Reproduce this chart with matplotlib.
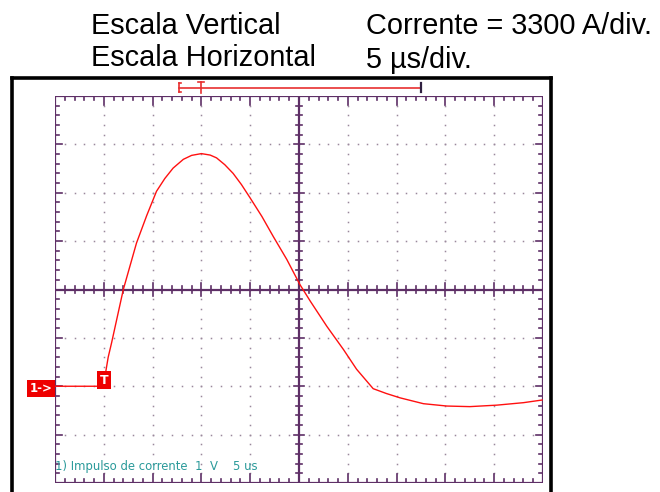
import numpy as np
import matplotlib.pyplot as plt
from matplotlib.lines import Line2D

# oscilloscope settings
A_DIV = 3300.0      # A per division
US_DIV = 5.0        # microseconds per division
N_X, N_Y = 10, 8    # screen divisions

# current pulse, time in us from trigger, current in A above the baseline
tempo_us = [-5.0, 0.0, 0.2, 0.45, 0.8, 2.0, 3.35, 4.4, 5.4, 6.25, 7.1, 8.15,
            9.0, 10.0, 10.9, 11.55, 12.4, 13.25, 14.1, 15.0, 16.2, 17.35,
            18.75, 20.1, 21.15, 22.85, 23.7, 24.55, 25.9, 27.6, 28.95, 30.35,
            32.75, 35.15, 37.5, 40.25, 43.0, 44.9]
corrente_a = [0, 0, 990, 1980, 2970, 6600, 9770, 11650, 13300, 14170, 14880,
              15480, 15750, 15870, 15770, 15580, 15110, 14520, 13760, 12840,
              11580, 10230, 8650, 6930, 5810, 4090, 3300, 2510, 1160, -165,
              -495, -790, -1190, -1350, -1390, -1290, -1120, -940]

t0 = -1 * US_DIV            # left edge of the screen
i0 = -2 * A_DIV             # bottom edge of the screen

W, H = 660, 492
fig = plt.figure(figsize=(W / 100, H / 100), dpi=100)
fig.patch.set_facecolor('white')

def fx(px):
    return px / W

def fy(py):
    return 1 - py / H

ax = fig.add_axes([fx(55), fy(483), fx(543) - fx(55), fy(96) - fy(483)])
ax.set_xlim(t0, t0 + N_X * US_DIV)
ax.set_ylim(i0, i0 + N_Y * A_DIV)
ax.axis('off')

grat = '#5e2f66'
dots = '#9a889c'

def X(d):
    return t0 + np.asarray(d) * US_DIV

def Y(d):
    return i0 + np.asarray(d) * A_DIV

# dotted grid
for k in range(1, N_X):
    if k == N_X // 2:
        continue
    yy = np.arange(0.2, N_Y, 0.2)
    ax.plot(X(np.full_like(yy, k)), Y(yy), ls='none', marker='s', ms=1.1,
            mec='none', mfc=dots, zorder=1)
for k in range(1, N_Y):
    if k == N_Y // 2:
        continue
    xx = np.arange(0.2, N_X, 0.2)
    ax.plot(X(xx), Y(np.full_like(xx, k)), ls='none', marker='s', ms=1.1,
            mec='none', mfc=dots, zorder=1)

# border and centre axes
lw = 1.6
ax.plot(X([0, N_X, N_X, 0, 0]), Y([0, 0, N_Y, N_Y, 0]), color=grat, lw=lw,
        solid_joinstyle='miter', zorder=2)
ax.plot(X([N_X / 2, N_X / 2]), Y([0, N_Y]), color=grat, lw=lw, zorder=2)
ax.plot(X([0, N_X]), Y([N_Y / 2, N_Y / 2]), color=grat, lw=lw, zorder=2)

# tick marks, in divisions
mn, mj = 0.09, 0.18
for i in range(1, N_X * 5):
    d = i / 5
    L = mj if i % 5 == 0 else mn
    c = 0.14 if i % 5 == 0 else 0.07
    ax.plot(X([d, d]), Y([0, L]), color=grat, lw=1.2, zorder=2)
    ax.plot(X([d, d]), Y([N_Y, N_Y - L]), color=grat, lw=1.2, zorder=2)
    ax.plot(X([d, d]), Y([N_Y / 2 - c, N_Y / 2 + c]), color=grat, lw=1.2, zorder=2)
for i in range(1, N_Y * 5):
    d = i / 5
    L = mj if i % 5 == 0 else mn
    c = 0.14 if i % 5 == 0 else 0.07
    ax.plot(X([0, L * 0.8]), Y([d, d]), color=grat, lw=1.2, zorder=2)
    ax.plot(X([N_X, N_X - L * 0.8]), Y([d, d]), color=grat, lw=1.2, zorder=2)
    ax.plot(X([N_X / 2 - c * 0.8, N_X / 2 + c * 0.8]), Y([d, d]), color=grat,
            lw=1.2, zorder=2)

# the trace
ax.plot(tempo_us, corrente_a, color='#ff1010', lw=1.0, zorder=5,
        solid_joinstyle='round')

# channel and trigger markers
fig.text(fx(41), fy(388.5), '1->', color='white', fontsize=8.5, fontweight='bold',
         ha='center', va='center',
         bbox=dict(boxstyle='square,pad=0.18', fc='#ee0000', ec='none'))
fig.text(fx(104), fy(380), 'T', color='white', fontsize=9, fontweight='bold',
         ha='center', va='center',
         bbox=dict(boxstyle='square,pad=0.2', fc='#ee0000', ec='none'))

# memory window bar
red = '#e83030'
fig.add_artist(Line2D([fx(179), fx(421)], [fy(87.5), fy(87.5)], color=red, lw=1.2))
fig.add_artist(Line2D([fx(179), fx(179)], [fy(83), fy(92)], color=red, lw=1.2))
fig.add_artist(Line2D([fx(179), fx(181)], [fy(83), fy(83)], color=red, lw=1.2))
fig.add_artist(Line2D([fx(179), fx(181)], [fy(92), fy(92)], color=red, lw=1.2))
fig.add_artist(Line2D([fx(201), fx(201)], [fy(82), fy(93)], color=red, lw=1.2))
fig.add_artist(Line2D([fx(198), fx(204)], [fy(82), fy(82)], color=red, lw=1.2))
fig.add_artist(Line2D([fx(420.5), fx(420.5)], [fy(83), fy(92)], color='#302040', lw=1.6))

# black frame around the screen
for xs, ys in [([12, 12], [78, 492]), ([12, 551], [78, 78]), ([551, 551], [78, 492])]:
    fig.add_artist(Line2D([fx(v) for v in xs], [fy(v) for v in ys],
                          color='black', lw=2.6, solid_capstyle='projecting'))

# channel label
fig.text(fx(55), fy(470), '1) Impulso de corrente  1  V    5 us', color='#2a9a9a',
         fontsize=8.4, family='DejaVu Sans', ha='left', va='baseline')

# header
hdr = dict(fontsize=20.8, family=['Liberation Sans', 'DejaVu Sans'], ha='left',
           va='baseline', color='black')
fig.text(fx(91), fy(34), 'Escala Vertical', **hdr)
fig.text(fx(91), fy(66), 'Escala Horizontal', **hdr)
fig.text(fx(366), fy(34), 'Corrente = 3300 A/div.', **hdr)
fig.text(fx(366), fy(68), '5 \u00b5s/div.', **hdr)

fig.savefig('out.png', dpi=100)
